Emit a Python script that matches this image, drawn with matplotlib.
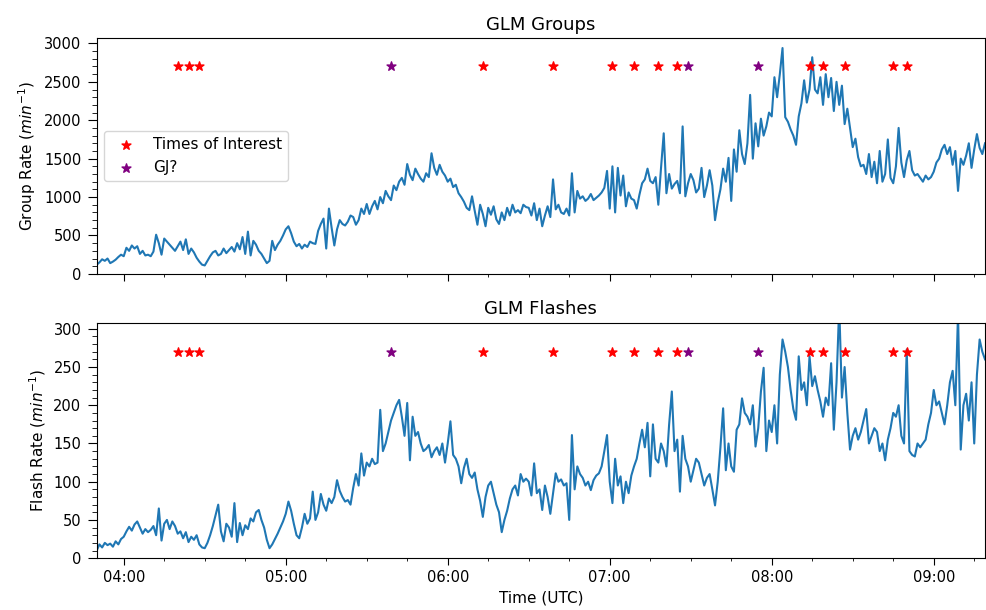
import matplotlib
matplotlib.use("Agg")
import matplotlib.pyplot as plt
import matplotlib.dates as mdates
from matplotlib.ticker import MultipleLocator
import numpy as np
import pandas as pd

# one-minute GLM rates, 03:50 - 09:19 UTC
start = "2019-05-20 03:50"

group_rate = [
    120, 150, 190, 170, 200, 140, 160, 185, 220, 250,
    230, 340, 300, 370, 330, 360, 260, 300, 240, 250,
    230, 290, 510, 400, 250, 460, 420, 380, 340, 300,
    360, 420, 310, 450, 260, 330, 280, 210, 160, 120,
    110, 170, 230, 280, 300, 240, 260, 330, 270, 310,
    350, 290, 400, 320, 480, 260, 550, 240, 430, 380,
    300, 260, 200, 140, 170, 430, 310, 380, 430, 500,
    580, 620, 530, 420, 360, 390, 330, 380, 350, 420,
    400, 390, 560, 650, 720, 330, 850, 600, 370, 580,
    700, 650, 630, 680, 760, 740, 640, 700, 850, 780,
    910, 780, 880, 950, 840, 1000, 920, 1080, 1010, 960,
    1150, 1090, 1200, 1250, 1160, 1430, 1290, 1220, 1370, 1300,
    1240, 1200, 1310, 1260, 1570, 1380, 1290, 1420, 1330, 1280,
    1200, 1240, 1130, 1160, 1050, 1000, 940, 860, 830, 1010,
    820, 640, 900, 780, 620, 860, 770, 880, 710, 650,
    800, 700, 860, 760, 900, 800, 830, 790, 900, 870,
    860, 760, 920, 700, 850, 620, 760, 880, 740, 1230,
    840, 900, 800, 780, 850, 760, 1310, 800, 1080, 980,
    1010, 950, 980, 1040, 960, 990, 1020, 1060, 1120, 1340,
    850, 1400, 800, 1380, 1020, 1280, 880, 1060, 980, 960,
    850, 1030, 1180, 1230, 1370, 1210, 1180, 1260, 900, 1380,
    1830, 1050, 1300, 1110, 1170, 1210, 1050, 1920, 1010, 1180,
    1300, 1220, 1060, 1110, 1380, 1000, 1150, 1350, 1150, 700,
    930, 1100, 1370, 1200, 1510, 950, 1620, 1330, 1870, 1560,
    1430, 1700, 2330, 1500, 1960, 1660, 2020, 1800, 1920, 2100,
    2050, 2560, 2300, 2600, 2940, 2040, 1980, 1880, 1800, 1680,
    2050, 2220, 2520, 2230, 2400, 2820, 2400, 2350, 2560, 2200,
    2600, 2300, 2550, 2120, 2500, 2200, 2450, 1950, 2150, 1900,
    1650, 1760, 1520, 1400, 1420, 1300, 1560, 1260, 1460, 1180,
    1600, 1200, 1300, 1750, 1250, 1180, 1400, 1900, 1450, 1260,
    1480, 1600, 1350, 1280, 1300, 1250, 1200, 1280, 1230, 1260,
    1330, 1450, 1500, 1620, 1680, 1560, 1650, 1420, 1600, 1080,
    1500, 1420, 1540, 1700, 1380, 1620, 1820, 1640, 1560, 1700,
]

flash_rate = [
    10, 18, 14, 20, 17, 19, 15, 22, 18, 25,
    28, 35, 41, 36, 44, 48, 40, 32, 38, 34,
    37, 42, 30, 65, 23, 45, 50, 38, 48, 42,
    32, 35, 26, 34, 21, 28, 24, 30, 18, 14,
    13, 20, 30, 42, 56, 70, 35, 22, 45, 40,
    28, 72, 21, 46, 30, 43, 38, 52, 48, 60,
    63, 50, 40, 24, 13, 18, 25, 32, 40, 48,
    58, 74, 62, 45, 30, 26, 40, 58, 45, 52,
    87, 50, 60, 84, 70, 62, 78, 72, 80, 102,
    88, 80, 74, 76, 70, 92, 110, 95, 137, 108,
    125, 120, 130, 123, 125, 194, 140, 150, 165, 180,
    190, 200, 207, 185, 160, 203, 128, 185, 160, 165,
    150, 140, 143, 148, 132, 140, 145, 135, 150, 125,
    150, 179, 135, 130, 120, 98, 118, 130, 110, 105,
    112, 90, 75, 54, 80, 95, 100, 85, 70, 60,
    34, 50, 62, 78, 90, 95, 82, 110, 100, 104,
    100, 82, 124, 85, 90, 63, 95, 80, 58, 85,
    111, 100, 103, 95, 98, 50, 161, 90, 120, 110,
    105, 95, 100, 89, 102, 108, 111, 120, 140, 161,
    100, 72, 130, 95, 107, 72, 100, 85, 108, 120,
    130, 150, 168, 145, 177, 107, 175, 130, 125, 150,
    140, 120, 175, 218, 140, 155, 87, 160, 130, 120,
    100, 115, 130, 125, 110, 95, 105, 110, 90, 69,
    100, 145, 196, 115, 150, 120, 113, 168, 175, 209,
    190, 185, 175, 200, 146, 170, 218, 249, 140, 180,
    165, 200, 150, 240, 286, 270, 250, 220, 195, 181,
    264, 220, 230, 200, 264, 225, 238, 220, 205, 185,
    210, 200, 255, 168, 230, 330, 210, 250, 190, 142,
    160, 170, 155, 165, 180, 195, 150, 160, 170, 165,
    140, 150, 128, 155, 170, 190, 185, 200, 160, 150,
    273, 140, 135, 133, 150, 145, 150, 155, 175, 190,
    220, 200, 205, 190, 175, 200, 230, 245, 200, 320,
    142, 200, 215, 180, 230, 150, 240, 286, 270, 260,
]

times_of_interest = ["04:20", "04:24", "04:28", "06:13", "06:39", "07:01", "07:09",
                     "07:18", "07:25", "08:14", "08:19", "08:27", "08:45", "08:50"]
gj_times = ["05:39", "07:29", "07:55"]

t = pd.date_range(start, periods=len(group_rate), freq="1min")
day = start.split()[0]
toi = pd.to_datetime([day + " " + s for s in times_of_interest])
gj = pd.to_datetime([day + " " + s for s in gj_times])

fig = plt.figure(figsize=(9.87, 6.10), dpi=100)
ax1 = fig.add_axes([0.098, 0.551, 0.900, 0.386])
ax2 = fig.add_axes([0.098, 0.085, 0.900, 0.386], sharex=ax1)

ax1.plot(t, group_rate, color="C0", lw=1.5)
ax1.scatter(toi, [2700] * len(toi), marker="*", color="red", s=45, zorder=3, label="Times of Interest")
ax1.scatter(gj, [2700] * len(gj), marker="*", color="purple", s=45, zorder=3, label="GJ?")
ax1.set_ylim(0, 3065)
ax1.yaxis.set_major_locator(MultipleLocator(500))
ax1.yaxis.set_minor_locator(MultipleLocator(100))
ax1.set_ylabel("Group Rate ($min^{-1}$)", fontsize=11)
ax1.set_title("GLM Groups", fontsize=13)
ax1.legend(loc="center left", fontsize=11)
ax1.tick_params(labelbottom=False)

ax2.plot(t, flash_rate, color="C0", lw=1.5)
ax2.scatter(toi, [270] * len(toi), marker="*", color="red", s=45, zorder=3)
ax2.scatter(gj, [270] * len(gj), marker="*", color="purple", s=45, zorder=3)
ax2.set_ylim(0, 308)
ax2.yaxis.set_major_locator(MultipleLocator(50))
ax2.yaxis.set_minor_locator(MultipleLocator(10))
ax2.set_ylabel("Flash Rate ($min^{-1}$)", fontsize=11)
ax2.set_xlabel("Time (UTC)", fontsize=11)
ax2.set_title("GLM Flashes", fontsize=13)

ax2.set_xlim(t[0], t[-1])
ax2.xaxis.set_major_locator(mdates.HourLocator())
ax2.xaxis.set_minor_locator(mdates.MinuteLocator(byminute=[15, 30, 45]))
ax2.xaxis.set_major_formatter(mdates.DateFormatter("%H:%M"))

for ax in (ax1, ax2):
    ax.tick_params(which="major", labelsize=10.5)
    ax.tick_params(axis="y", which="major", length=6.5, pad=4.5)
    ax.tick_params(axis="y", which="minor", length=3.5)
    ax.tick_params(axis="x", which="major", length=5)

fig.savefig("out.png", dpi=100)
